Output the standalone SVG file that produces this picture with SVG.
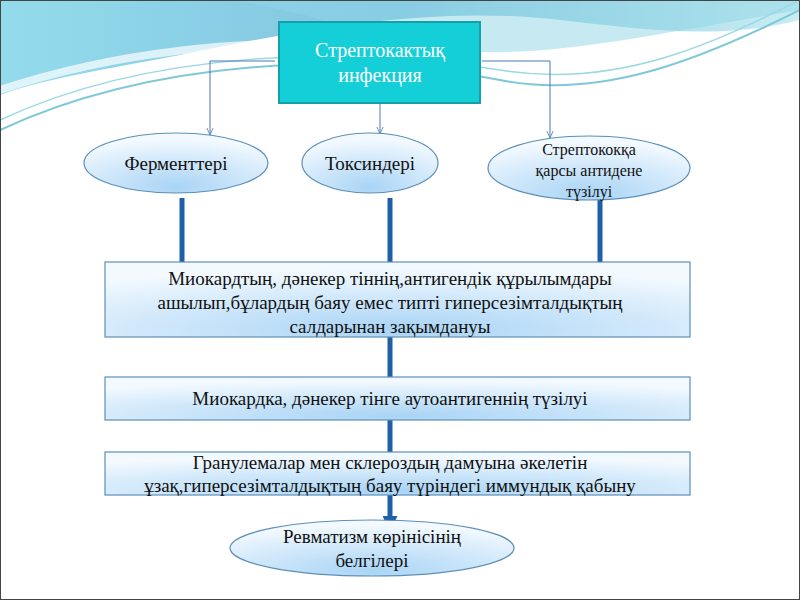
<svg xmlns="http://www.w3.org/2000/svg" width="800" height="600" viewBox="0 0 800 600">
<defs>
<style>
text{font-family:'Liberation Serif','DejaVu Serif',serif;fill:#111;text-anchor:middle}
.thin{stroke:#4a78b8;stroke-width:1;fill:none}
.thick{stroke:#1f5fa8;stroke-width:5;fill:none}
.nd{stroke:#5d8fb8;stroke-width:1.2;fill:url(#g)}
</style>
<radialGradient id="g" cx="0.5" cy="0.9" r="0.8">
<stop offset="0" stop-color="#a9d4f5"/><stop offset="1" stop-color="#f2f9ff"/>
</radialGradient>
<linearGradient id="w" x1="0" y1="0" x2="1" y2="0">
<stop offset="0" stop-color="#6fd0e6"/><stop offset="0.5" stop-color="#58b0d4"/><stop offset="1" stop-color="#b6e8ef"/>
</linearGradient>
<marker id="a" viewBox="0 0 10 10" refX="9" refY="5" markerWidth="8" markerHeight="8" orient="auto"><path d="M0,1 L9,5 L0,9" fill="none" stroke="#4a78b8"/></marker>
<marker id="b" viewBox="0 0 10 10" refX="8" refY="5" markerWidth="3" markerHeight="3" orient="auto"><path d="M0,0 L10,5 L0,10z" fill="#1f5fa8"/></marker>
</defs>
<rect width="800" height="600" fill="#fff"/>
<path d="M0,0 H800 V20 C720,40 650,30 560,20 C430,5 300,30 180,55 C100,70 40,80 0,95 Z" fill="url(#w)" opacity="0.75"/>
<path d="M230,0 C300,10 350,30 420,45 C520,65 620,40 800,10 V0 Z" fill="#8fd6e6" opacity="0.5"/>
<path d="M0,90 C120,50 250,40 330,45" fill="none" stroke="#fff" stroke-width="8" opacity="0.7"/>
<path d="M0,130 C150,60 350,50 500,80 C600,100 700,60 800,10" fill="none" stroke="#7fc8d8" stroke-width="2"/>
<path d="M0,120 C150,50 350,45 500,70 C620,90 720,40 800,0" fill="none" stroke="#9ad8e4" stroke-width="1.5"/>
<rect x="0.5" y="0.5" width="799" height="599" fill="none" stroke="#444" stroke-width="1"/>
<g id="connectors">
<path class="thin" d="M275,61 H210 V135" marker-end="url(#a)"/>
<path class="thin" d="M380,103 V134" marker-end="url(#a)"/>
<path class="thin" d="M482,61 H550 V138" marker-end="url(#a)"/>
<path class="thick" d="M182,198 V262 M390,198 V262 M600,198 V262 M390,337 V377 M390,420 V452"/>
<path class="thick" d="M390,495 V528" marker-end="url(#b)"/>
</g>
<g id="n0"><rect x="279" y="22" width="201" height="81" fill="#15cfd8" stroke="#13a0a8" stroke-width="2"/>
<text x="380" y="57" font-size="20" style="fill:#fff">Стрептокактық</text>
<text x="380" y="82" font-size="20" style="fill:#fff">инфекция</text></g>
<g id="n1"><ellipse class="nd" cx="176" cy="163" rx="92" ry="30"/><text x="176" y="170" font-size="19">Ферменттері</text></g>
<g id="n2"><ellipse class="nd" cx="370" cy="163" rx="68" ry="30"/><text x="370" y="170" font-size="19">Токсиндері</text></g>
<g id="n3"><ellipse class="nd" cx="589" cy="168" rx="101" ry="32"/><text x="589" y="155" font-size="16">Стрептококқа</text><text x="589" y="176" font-size="16">қарсы антидене</text><text x="589" y="197" font-size="16">түзілуі</text></g>
<g id="n4"><rect class="nd" x="105" y="262" width="585" height="75"/><text x="390" y="285" font-size="19">Миокардтың, дәнекер тіннің,антигендік құрылымдары</text><text x="390" y="309" font-size="19">ашылып,бұлардың баяу емес типті гиперсезімталдықтың</text><text x="390" y="333" font-size="19">салдарынан зақымдануы</text></g>
<g id="n5"><rect class="nd" x="105" y="377" width="585" height="43"/><text x="390" y="405" font-size="19">Миокардка, дәнекер тінге аутоантигеннің түзілуі</text></g>
<g id="n6"><rect class="nd" x="105" y="452" width="585" height="43"/><text x="390" y="469" font-size="19">Гранулемалар мен склероздың дамуына әкелетін</text><text x="390" y="492" font-size="19">ұзақ,гиперсезімталдықтың баяу түріндегі иммундық қабыну</text></g>
<g id="n7"><ellipse class="nd" cx="372" cy="548" rx="142" ry="28"/><text x="372" y="543" font-size="19">Ревматизм көрінісінің</text><text x="372" y="567" font-size="19">белгілері</text></g>
</svg>
